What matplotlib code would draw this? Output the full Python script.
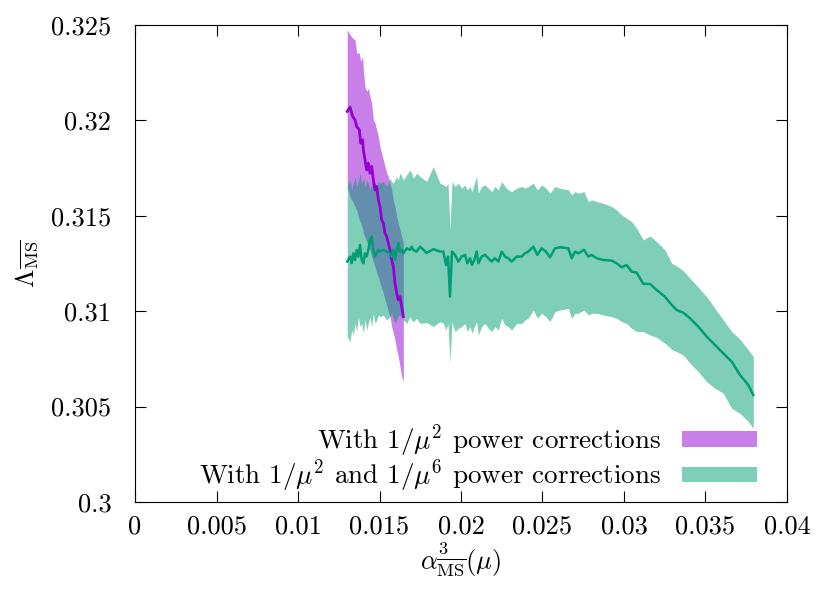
import matplotlib.pyplot as plt
from matplotlib.ticker import FuncFormatter

plt.rcParams['font.family'] = 'serif'
plt.rcParams['font.serif'] = ['cmr10', 'DejaVu Serif']
plt.rcParams['mathtext.fontset'] = 'cm'
plt.rcParams['axes.formatter.use_mathtext'] = True

# 1/mu^2 corrections
purple_x = [0.01302, 0.013190, 0.013354, 0.013497, 0.013599, 0.013763, 0.013844, 0.013967, 0.014008,
            0.014110, 0.014213, 0.014315, 0.014417, 0.014519, 0.014622, 0.014724, 0.014826, 0.014928,
            0.015031, 0.015133, 0.015235, 0.015337, 0.015440, 0.015542, 0.015644, 0.015746, 0.015849,
            0.015951, 0.016053, 0.016155, 0.016258, 0.016360, 0.016462]
purple_mid = [0.32046, 0.32069, 0.32020, 0.32002, 0.31967, 0.31950, 0.31880, 0.31897, 0.31845,
              0.31793, 0.31740, 0.31775, 0.31723, 0.31758, 0.31688, 0.31635, 0.31653, 0.31583,
              0.31548, 0.31478, 0.31461, 0.31408, 0.31391, 0.31356, 0.31321, 0.31268, 0.31233,
              0.31146, 0.31094, 0.31059, 0.31076, 0.31024, 0.30971]
purple_hi = [0.32474, 0.32448, 0.32430, 0.32421, 0.32352, 0.32352, 0.32308, 0.32334, 0.32264,
             0.32177, 0.32151, 0.32168, 0.32124, 0.32090, 0.32002, 0.31985, 0.31950, 0.31915,
             0.31862, 0.31827, 0.31793, 0.31758, 0.31723, 0.31705, 0.31670, 0.31635, 0.31583,
             0.31548, 0.31496, 0.31461, 0.31426, 0.31391, 0.31356]
purple_lo = [0.31653, 0.31600, 0.31574, 0.31548, 0.31530, 0.31478, 0.31461, 0.31434, 0.31408,
             0.31391, 0.31365, 0.31338, 0.31321, 0.31286, 0.31260, 0.31233, 0.31199, 0.31181,
             0.31146, 0.31120, 0.31094, 0.31059, 0.31033, 0.30998, 0.30971, 0.30919, 0.30884,
             0.30849, 0.30797, 0.30762, 0.30709, 0.30657, 0.30631]

# 1/mu^2 and 1/mu^6 corrections
green_x = [0.01302, 0.013191, 0.013293, 0.013395, 0.013497, 0.013600, 0.013702, 0.013804, 0.013906,
           0.014009, 0.014111, 0.014213, 0.014315, 0.014418, 0.014520, 0.014622, 0.014724, 0.014827,
           0.014929, 0.015031, 0.015236, 0.015440, 0.015645, 0.015747, 0.015849, 0.015951, 0.016054,
           0.016156, 0.016258, 0.016360, 0.016463, 0.016667, 0.016872, 0.016974, 0.017076, 0.017281,
           0.017485, 0.017900, 0.018300,
           0.018712, 0.018917, 0.019080, 0.019203, 0.019326, 0.019448, 0.019632, 0.019837, 0.020041,
           0.020246, 0.020389, 0.020553, 0.020675, 0.020818, 0.020962, 0.021064, 0.021268, 0.021473,
           0.021677, 0.021882, 0.022086, 0.022291, 0.022495, 0.022700, 0.022904, 0.023109, 0.023416,
           0.023722, 0.023927, 0.024131, 0.024438, 0.024683, 0.024949, 0.025215, 0.025461, 0.025767,
           0.026074, 0.026585, 0.026790, 0.026994, 0.027199, 0.027546, 0.027812, 0.028017, 0.028324,
           0.028733, 0.029244, 0.029551, 0.029857, 0.030164, 0.030471, 0.030778, 0.031187, 0.031596,
           0.032005, 0.032516, 0.032925, 0.033232, 0.033641, 0.034050, 0.034561, 0.035072, 0.035583,
           0.036095, 0.036606, 0.037117, 0.037629, 0.037935]
green_mid = [0.31260, 0.31286, 0.31251, 0.31303, 0.31268, 0.31321, 0.31286, 0.31347, 0.31268,
             0.31251, 0.31303, 0.31286, 0.31321, 0.31373, 0.31391, 0.31321, 0.31286, 0.31303,
             0.31321, 0.31312, 0.31321, 0.31312, 0.31303, 0.31286, 0.31321, 0.31268, 0.31321,
             0.31356, 0.31312, 0.31321, 0.31303, 0.31329, 0.31321, 0.31338, 0.31321, 0.31312,
             0.31338, 0.31305, 0.31325,
             0.31312, 0.31312, 0.31242, 0.31286, 0.31076, 0.31312, 0.31295, 0.31260, 0.31286,
             0.31295, 0.31251, 0.31277, 0.31242, 0.31268, 0.31312, 0.31251, 0.31286, 0.31295,
             0.31277, 0.31260, 0.31277, 0.31260, 0.31312, 0.31286, 0.31277, 0.31260, 0.31286,
             0.31286, 0.31303, 0.31312, 0.31338, 0.31295, 0.31329, 0.31312, 0.31282, 0.31329,
             0.31335, 0.31329, 0.31277, 0.31312, 0.31303, 0.31321, 0.31286, 0.31295, 0.31277,
             0.31268, 0.31265, 0.31251, 0.31230, 0.31242, 0.31207, 0.31202, 0.31143, 0.31143,
             0.31111, 0.31076, 0.31033, 0.31006, 0.30992, 0.30963, 0.30919, 0.30867, 0.30823,
             0.30779, 0.30736, 0.30666, 0.30613, 0.30561]
green_hi = [0.31653, 0.31688, 0.31635, 0.31670, 0.31705, 0.31653, 0.31679, 0.31723, 0.31670,
            0.31696, 0.31653, 0.31688, 0.31670, 0.31635, 0.31661, 0.31688, 0.31670, 0.31653,
            0.31679, 0.31670, 0.31679, 0.31653, 0.31696, 0.31679, 0.31670, 0.31688, 0.31705,
            0.31688, 0.31723, 0.31705, 0.31688, 0.31714, 0.31740, 0.31723, 0.31696, 0.31723,
            0.31705, 0.31680, 0.31757,
            0.31670, 0.31661, 0.31653, 0.31670, 0.31426, 0.31679, 0.31653, 0.31670, 0.31644,
            0.31661, 0.31635, 0.31653, 0.31626, 0.31670, 0.31705, 0.31618, 0.31653, 0.31661,
            0.31644, 0.31626, 0.31653, 0.31635, 0.31679, 0.31653, 0.31635, 0.31626, 0.31644,
            0.31653, 0.31644, 0.31653, 0.31670, 0.31635, 0.31661, 0.31644, 0.31618, 0.31653,
            0.31644, 0.31635, 0.31609, 0.31626, 0.31618, 0.31626, 0.31574, 0.31583, 0.31574,
            0.31565, 0.31548, 0.31530, 0.31504, 0.31487, 0.31469, 0.31434, 0.31373, 0.31394,
            0.31364, 0.31321, 0.31251, 0.31237, 0.31212, 0.31172, 0.31125, 0.31076, 0.31015,
            0.30954, 0.30893, 0.30853, 0.30797, 0.30762]
green_lo = [0.30867, 0.30840, 0.30901, 0.30875, 0.30936, 0.30893, 0.30971, 0.30919, 0.30936,
            0.30884, 0.30954, 0.30901, 0.30936, 0.30971, 0.30919, 0.30989, 0.30936, 0.30954,
            0.30980, 0.30971, 0.30980, 0.30954, 0.30971, 0.30989, 0.30963, 0.30936, 0.30954,
            0.30980, 0.30971, 0.30989, 0.30954, 0.30936, 0.30971, 0.30954, 0.30945, 0.30963,
            0.30936, 0.30940, 0.30920,
            0.30945, 0.30936, 0.30901, 0.30936, 0.30727, 0.30945, 0.30893, 0.30910, 0.30919,
            0.30936, 0.30893, 0.30919, 0.30884, 0.30919, 0.30945, 0.30875, 0.30919, 0.30936,
            0.30910, 0.30893, 0.30919, 0.30901, 0.30963, 0.30928, 0.30919, 0.30901, 0.30936,
            0.30936, 0.30954, 0.30963, 0.31006, 0.30963, 0.30989, 0.30971, 0.30945, 0.30998,
            0.31006, 0.31015, 0.30963, 0.30989, 0.30989, 0.31006, 0.30980, 0.30989, 0.30989,
            0.30980, 0.30971, 0.30963, 0.30945, 0.30936, 0.30910, 0.30893, 0.30893, 0.30875,
            0.30863, 0.30832, 0.30800, 0.30788, 0.30770, 0.30727, 0.30683, 0.30631, 0.30596,
            0.30570, 0.30491, 0.30465, 0.30421, 0.30386]

x_ticks = [0, 0.005, 0.01, 0.015, 0.02, 0.025, 0.03, 0.035, 0.04]
y_ticks = [0.3, 0.305, 0.31, 0.315, 0.32, 0.325]

labels = [r'With $1/\mu^2$ power corrections',
          r'With $1/\mu^2$ and $1/\mu^6$ power corrections']

purple = '#9400d3'
green = '#009e73'

fig = plt.figure(figsize=(8.31, 5.90), dpi=100)
ax = fig.add_axes([0.1625, 0.149, 0.7845, 0.809])

b1 = ax.fill_between(purple_x, purple_lo, purple_hi, color=purple, alpha=0.5, lw=0)
b2 = ax.fill_between(green_x, green_lo, green_hi, color=green, alpha=0.5, lw=0)
ax.plot(purple_x, purple_mid, color=purple, lw=2)
ax.plot(green_x, green_mid, color=green, lw=1.8)

ax.set_xlim(0, 0.04)
ax.set_ylim(0.3, 0.325)
ax.set_xticks(x_ticks)
ax.set_yticks(y_ticks)
fmt = FuncFormatter(lambda v, p: f'{v:g}')
ax.xaxis.set_major_formatter(fmt)
ax.yaxis.set_major_formatter(fmt)
ax.tick_params(direction='in', length=8, width=0.8, top=True, right=True, labelsize=19)
ax.tick_params(axis='x', pad=9)
ax.tick_params(axis='y', pad=17)
for s in ax.spines.values():
    s.set_linewidth(0.8)

ax.set_xlabel(r'$\alpha^3_{\overline{\rm MS}}(\mu)$', fontsize=19, labelpad=2)
ax.set_ylabel(r'$\Lambda_{\overline{\rm MS}}$', fontsize=19, labelpad=9)

ax.legend([b1, b2], labels, loc='lower right', bbox_to_anchor=(0.954, 0.016),
          frameon=False, markerfirst=False, fontsize=19.5, handlelength=2.75,
          handleheight=0.5, handletextpad=0.78, labelspacing=-0.05,
          borderpad=0, borderaxespad=0)

plt.savefig('out.png', dpi=100)
